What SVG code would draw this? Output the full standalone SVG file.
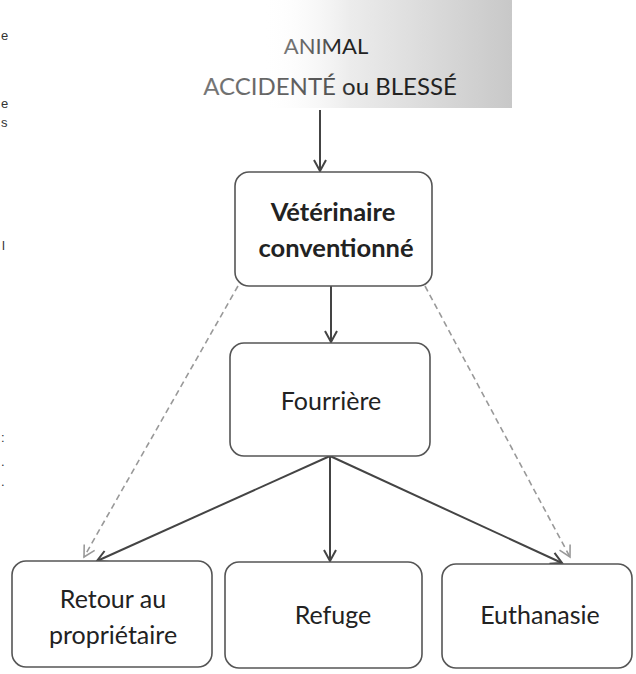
<svg xmlns="http://www.w3.org/2000/svg" width="636" height="674" viewBox="0 0 636 674">
<defs>
<style>
.box{fill:#fff;stroke:#555;stroke-width:1.6}
.lbl{font-family:Lato,"Open Sans",sans-serif;font-size:25px;fill:#222;text-anchor:middle}
.bold{font-weight:bold;font-size:25.5px}
.solid{stroke:#444;stroke-width:2;fill:none}
.dash{stroke:#999;stroke-width:1.6;stroke-dasharray:6 4;fill:none}
.frag{font-family:"Liberation Sans",sans-serif;font-size:13px;fill:#333}
</style>
<marker id="ah" markerWidth="14" markerHeight="14" refX="12" refY="7" orient="auto" markerUnits="userSpaceOnUse">
<path d="M1,1 L12,7 L1,13" fill="none" stroke="#444" stroke-width="2"/>
</marker>
<marker id="ahl" markerWidth="14" markerHeight="14" refX="12" refY="7" orient="auto" markerUnits="userSpaceOnUse">
<path d="M1,1 L12,7 L1,13" fill="none" stroke="#999" stroke-width="1.6"/>
</marker>
<linearGradient id="bgH" x1="0" y1="0" x2="1" y2="0">
<stop offset="0" stop-color="#fff" stop-opacity="0"/>
<stop offset="0.35" stop-color="#ececec"/>
<stop offset="1" stop-color="#c8c8c8"/>
</linearGradient>
<linearGradient id="txtG" x1="0" y1="0" x2="1" y2="0">
<stop offset="0" stop-color="#777"/>
<stop offset="0.5" stop-color="#555"/>
<stop offset="0.6" stop-color="#222"/>
<stop offset="1" stop-color="#222"/>
</linearGradient>
</defs>
<rect width="636" height="674" fill="#fff"/>

<g id="margin-fragments">
<text class="frag" x="1" y="40">e</text>
<text class="frag" x="1" y="108">e</text>
<text class="frag" x="1" y="127">s</text>
<text class="frag" x="2" y="250">l</text>
<text class="frag" x="1" y="442">:</text>
<text class="frag" x="1" y="466">.</text>
<text class="frag" x="1" y="486">.</text>
</g>

<g id="connectors">
<line class="solid" x1="320" y1="110" x2="320" y2="171" marker-end="url(#ah)"/>
<line class="solid" x1="331" y1="286" x2="331" y2="342" marker-end="url(#ah)"/>
<line class="solid" x1="330" y1="456" x2="97" y2="561" marker-end="url(#ah)"/>
<line class="solid" x1="330" y1="456" x2="330" y2="561" marker-end="url(#ah)"/>
<line class="solid" x1="330" y1="456" x2="562" y2="563" marker-end="url(#ah)"/>
<line class="dash" x1="238" y1="286" x2="84" y2="557" marker-end="url(#ahl)"/>
<line class="dash" x1="425" y1="286" x2="570" y2="557" marker-end="url(#ahl)"/>
</g>

<g id="animal">
<rect x="262" y="0" width="250" height="108" fill="url(#bgH)"/>
<text class="lbl" x="326" y="54" style="font-size:22px;fill:url(#txtG)">ANIMAL</text>
<text class="lbl" x="330" y="95" style="font-size:24px;fill:url(#txtG)">ACCIDENTÉ ou BLESSÉ</text>
</g>

<g id="veterinaire">
<rect class="box" x="235" y="172" width="197" height="114" rx="14"/>
<text class="lbl bold" x="333" y="221">Vétérinaire</text>
<text class="lbl bold" x="336" y="257">conventionné</text>
</g>

<g id="fourriere">
<rect class="box" x="230" y="343" width="200" height="113" rx="14"/>
<text class="lbl" x="331" y="410">Fourrière</text>
</g>

<g id="retour">
<rect class="box" x="12" y="561" width="200" height="106" rx="14"/>
<text class="lbl" x="113" y="608">Retour au</text>
<text class="lbl" x="113" y="644">propriétaire</text>
</g>

<g id="refuge">
<rect class="box" x="225" y="562" width="197" height="106" rx="14"/>
<text class="lbl" x="333" y="624">Refuge</text>
</g>

<g id="euthanasie">
<rect class="box" x="442" y="564" width="190" height="104" rx="14"/>
<text class="lbl" x="540" y="624">Euthanasie</text>
</g>
</svg>
